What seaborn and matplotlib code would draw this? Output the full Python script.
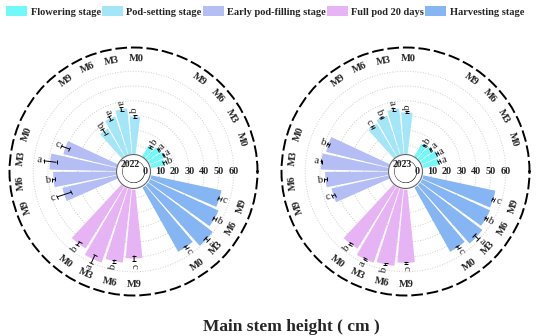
import numpy as np
import matplotlib.pyplot as plt
import seaborn as sns
from matplotlib.patches import Patch

sns.set_style("white")
plt.rcParams["font.family"] = ["Liberation Serif", "DejaVu Serif"]

stages = ["Flowering stage", "Pod-setting stage", "Early pod-filling stage",
          "Full pod 20 days", "Harvesting stage"]
treatments = ["M0", "M3", "M6", "M9"]
stage_colors = ["#72F8F8", "#A2E6F8", "#B4BEF5", "#E6B4F5", "#86B5F4"]

# main stem height (cm), stage by stage, M0 M3 M6 M9
height_2022 = [14.0, 15.2, 14.5, 12.3,
               29.4, 35.1, 31.4, 26.0,
               41.0, 49.0, 46.5, 41.5,
               53.5, 57.4, 54.2, 51.0,
               54.3, 59.5, 55.5, 53.0]
err_2022 = [0.8, 0.5, 0.5, 0.8,
            1.0, 1.5, 1.5, 2.0,
            2.8, 4.4, 0.8, 5.0,
            1.5, 2.7, 1.0, 2.0,
            1.0, 1.2, 1.0, 1.0]
sig_2022 = list("baab" "baab" "cabc" "babc" "cabc")

height_2023 = [15.7, 16.6, 15.0, 13.8,
               32.2, 35.0, 32.0, 29.7,
               47.5, 49.5, 46.5, 43.5,
               53.6, 57.5, 56.4, 53.9,
               54.3, 57.4, 55.1, 54.3]
err_2023 = [0.6, 0.6, 0.5, 0.6,
            0.6, 1.2, 0.6, 0.6,
            0.8, 0.5, 0.8, 0.8,
            0.8, 0.6, 0.6, 0.6,
            1.0, 2.0, 1.0, 0.6]
sig_2023 = list("aaab" "babc" "babc" "babc" "cabc")

radial_ticks = [0, 10, 20, 30, 40, 50, 60]

angles = np.array([16.6 + 72 * g + 12.6 * i for g in range(5) for i in range(4)])
bar_colors = [c for c in stage_colors for _ in treatments]
bar_labels = treatments * len(stages)


def radial_chart(ax, year, heights, errs, sigs):
    ax.set_ylim(0, 76)
    ax.set_rorigin(-7.77)
    th = np.deg2rad(angles)
    ax.bar(th, heights, width=np.deg2rad(11.0), color=bar_colors,
           edgecolor="none", zorder=2)
    ax.errorbar(th, heights, yerr=errs, fmt="none", ecolor="black",
                elinewidth=0.7, capsize=1.6, capthick=0.7, zorder=5)

    for a, h, e, s in zip(angles, heights, errs, sigs):
        a360 = a % 360
        rot = a360 if (a360 <= 90 or a360 >= 270) else a360 - 180
        ax.text(np.deg2rad(a), h + e + 3.0, s, rotation=rot, rotation_mode="anchor",
                ha="center", va="center", fontsize=7.8, zorder=6)

    for a, lab in zip(angles, bar_labels):
        a360 = a % 360
        rot = a360 + 90 if 215 < a360 < 360 else a360 - 90
        ax.text(np.deg2rad(a), 68.6, lab, rotation=rot, rotation_mode="anchor",
                ha="center", va="center", fontsize=7.5, fontweight="bold")

    # hole in the middle
    circ = np.linspace(0, 2 * np.pi, 300)
    ax.fill_between(circ, 0, 3.7, color="white", zorder=3)
    ax.plot(circ, np.full_like(circ, 3.7), color="#666666", lw=0.8, zorder=4)

    for v in radial_ticks:
        ax.text(0, v, str(v), ha="center", va="center", fontsize=7.3,
                fontweight="bold", zorder=6)
    ax.text(0.5 - 3 / 248, 0.5 + 7 / 248, year, transform=ax.transAxes,
            ha="center", va="center", fontsize=7, fontweight="bold", zorder=6)

    ax.set_xticks([])
    ax.set_yticks(radial_ticks[1:])
    ax.set_yticklabels([])
    ax.yaxis.grid(True, linestyle=":", color="#cfcfcf", lw=0.7)
    ax.xaxis.grid(False)
    ax.spines["inner"].set_visible(False)
    ax.spines["polar"].set_linestyle((0, (5, 3)))
    ax.spines["polar"].set_linewidth(1.4)
    ax.spines["polar"].set_color("black")


fig = plt.figure(figsize=(5.5, 3.36), dpi=100)
ax1 = fig.add_axes([9.5 / 550, 40.5 / 336, 248 / 550, 248 / 336], projection="polar")
ax2 = fig.add_axes([281.5 / 550, 40.5 / 336, 248 / 550, 248 / 336], projection="polar")
radial_chart(ax1, "2022", height_2022, err_2022, sig_2022)
radial_chart(ax2, "2023", height_2023, err_2023, sig_2023)

handles = [Patch(facecolor=c, edgecolor="none") for c in stage_colors]
fig.legend(handles, stages, loc="upper left", bbox_to_anchor=(0.0, 1.0), ncol=5,
           frameon=False, prop={"weight": "bold", "size": 7.5},
           handlelength=2.0, handleheight=1.1, handletextpad=0.35,
           columnspacing=0.1, borderaxespad=0.2)

fig.text(0.53, 0.027, "Main stem height ( cm )", ha="center", va="center",
         fontsize=12.5, fontweight="bold")

plt.savefig("out.png", dpi=100)
